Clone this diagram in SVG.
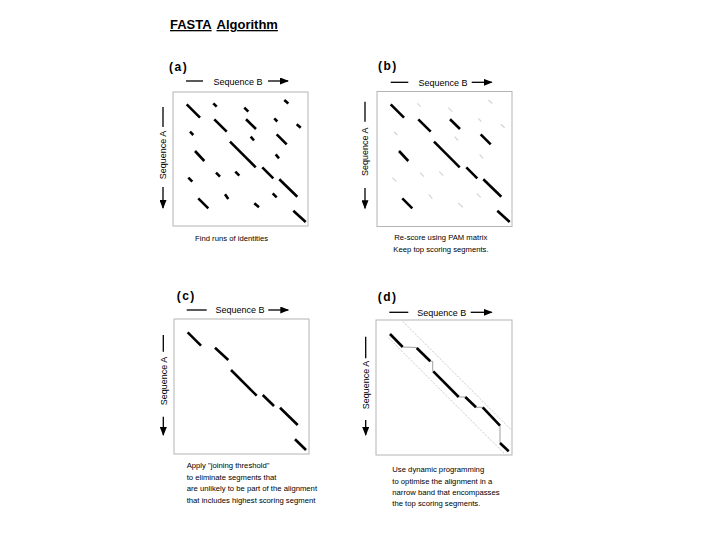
<svg xmlns="http://www.w3.org/2000/svg" width="720" height="540" viewBox="0 0 720 540">
<defs>
<marker id="ah" markerUnits="userSpaceOnUse" markerWidth="9" markerHeight="7" refX="8" refY="3.5" orient="auto">
<path d="M0,0 L9,3.5 L0,7 z" fill="#000"/>
</marker>
<style>
text{font-family:"Liberation Sans",Arial,sans-serif;fill:#000}
.title{font-size:13px;font-weight:bold;text-decoration:underline}
.lab{font-size:12px;font-weight:bold;letter-spacing:1.5px}
.seq{font-size:9px}
.cap{font-size:7.7px}
.box{fill:none;stroke:#b4b4b4;stroke-width:1}
.ax{stroke:#000;stroke-width:1.3;fill:none}
.arr{stroke:#000;stroke-width:1.3;fill:none;marker-end:url(#ah)}
.seg{stroke:#000;stroke-width:2.6;fill:none}
.faint{stroke:#d4d4d4;stroke-width:1.2;fill:none}
.band{stroke:#c8c8c8;stroke-width:1;fill:none;stroke-dasharray:2 1.5}
.path{stroke:#a0a0a0;stroke-width:1;fill:none}
</style>
</defs>
<rect width="720" height="540" fill="#fff"/>
<g id="title">
<text class="title" x="170" y="29">FASTA</text>
<text class="title" x="216.5" y="29">Algorithm</text>
</g>

<g id="panel-a">
<text class="lab" x="169" y="71">(a)</text>
<line class="ax" x1="186" y1="81" x2="203" y2="81"/>
<text class="seq" x="238" y="84.5" text-anchor="middle">Sequence B</text>
<line class="arr" x1="268" y1="81" x2="288" y2="81"/>
<line class="ax" x1="163" y1="107" x2="163" y2="127"/>
<text class="seq" transform="translate(166.2,155) rotate(-90)" text-anchor="middle">Sequence A</text>
<line class="arr" x1="163" y1="187" x2="163" y2="208"/>
<rect class="box" x="173" y="92" width="135" height="134"/>
<g class="seg">
<line x1="186.7" y1="104.3" x2="200" y2="117.7"/>
<line x1="213.3" y1="103.3" x2="216.7" y2="106.7"/>
<line x1="244.3" y1="107.7" x2="248.3" y2="111.7"/>
<line x1="284.3" y1="100" x2="288.3" y2="103.5"/>
<line x1="214.3" y1="119.3" x2="226.7" y2="131.7"/>
<line x1="246" y1="119.3" x2="256" y2="129"/>
<line x1="274.3" y1="118.3" x2="277.3" y2="121.5"/>
<line x1="296.7" y1="124.3" x2="300.7" y2="127.7"/>
<line x1="190" y1="131.7" x2="193.3" y2="135"/>
<line x1="250.7" y1="136.7" x2="254" y2="140.5"/>
<line x1="276.7" y1="134.3" x2="286.7" y2="144.3"/>
<line x1="230" y1="141.7" x2="255.7" y2="167.3"/>
<line x1="195" y1="151" x2="204.3" y2="161"/>
<line x1="275.7" y1="154.3" x2="279" y2="158.3"/>
<line x1="262.3" y1="167.3" x2="273.3" y2="178.3"/>
<line x1="216" y1="172.7" x2="220" y2="176.7"/>
<line x1="235.3" y1="171.7" x2="239.3" y2="175.7"/>
<line x1="188.3" y1="177.7" x2="192.3" y2="181.7"/>
<line x1="279.3" y1="179.3" x2="297.3" y2="196.7"/>
<line x1="225" y1="194.3" x2="228.3" y2="199"/>
<line x1="272.7" y1="193.3" x2="276.7" y2="197.3"/>
<line x1="198.3" y1="198.3" x2="208.3" y2="208.3"/>
<line x1="254.3" y1="203.3" x2="259" y2="207.3"/>
<line x1="293.3" y1="210.7" x2="305.7" y2="222"/>
</g>
<text class="cap" x="195" y="241">Find runs of identities</text>
</g>

<g id="panel-b">
<text class="lab" x="378" y="70">(b)</text>
<line class="ax" x1="390.7" y1="82.3" x2="408.3" y2="82.3"/>
<text class="seq" x="443" y="85.5" text-anchor="middle">Sequence B</text>
<line class="arr" x1="471.7" y1="82.3" x2="491.7" y2="82.3"/>
<line class="ax" x1="365" y1="101.7" x2="365" y2="121.7"/>
<text class="seq" transform="translate(368.2,151.7) rotate(-90)" text-anchor="middle">Sequence A</text>
<line class="arr" x1="365" y1="188" x2="365" y2="208.3"/>
<rect class="box" x="377" y="91.5" width="135" height="135"/>
<g class="faint">
<line x1="417.3" y1="103.3" x2="420.7" y2="106.7"/>
<line x1="448.3" y1="107.7" x2="452.3" y2="111.7"/>
<line x1="488.3" y1="100" x2="492.3" y2="103.5"/>
<line x1="478.3" y1="118.3" x2="481.3" y2="121.5"/>
<line x1="500.7" y1="124.3" x2="504.7" y2="127.7"/>
<line x1="394" y1="131.7" x2="397.3" y2="135"/>
<line x1="454.7" y1="136.7" x2="458" y2="140.5"/>
<line x1="479.7" y1="154.3" x2="483" y2="158.3"/>
<line x1="420" y1="172.7" x2="424" y2="176.7"/>
<line x1="439.3" y1="171.7" x2="443.3" y2="175.7"/>
<line x1="392.3" y1="177.7" x2="396.3" y2="181.7"/>
<line x1="429" y1="194.3" x2="432.3" y2="199"/>
<line x1="476.7" y1="193.3" x2="480.7" y2="197.3"/>
<line x1="458.3" y1="203.3" x2="463" y2="207.3"/>
</g>
<g class="seg">
<line x1="390.7" y1="104.3" x2="404" y2="117.7"/>
<line x1="418.3" y1="119.3" x2="430.7" y2="131.7"/>
<line x1="450" y1="119.3" x2="460" y2="129"/>
<line x1="480.7" y1="134.3" x2="490.7" y2="144.3"/>
<line x1="434" y1="141.7" x2="459.7" y2="167.3"/>
<line x1="399" y1="151" x2="408.3" y2="161"/>
<line x1="466.3" y1="167.3" x2="477.3" y2="178.3"/>
<line x1="483.3" y1="179.3" x2="501.3" y2="196.7"/>
<line x1="402.3" y1="198.3" x2="412.3" y2="208.3"/>
<line x1="497.3" y1="210.7" x2="509.7" y2="222"/>
</g>
<text class="cap" x="394.3" y="240">Re-score using PAM matrix</text>
<text class="cap" x="393.3" y="252">Keep top scoring segments.</text>
</g>

<g id="panel-c">
<text class="lab" x="176.7" y="300">(c)</text>
<line class="ax" x1="186.7" y1="310" x2="206.7" y2="310"/>
<text class="seq" x="240" y="313.3" text-anchor="middle">Sequence B</text>
<line class="arr" x1="268.3" y1="310" x2="288.3" y2="310"/>
<line class="ax" x1="163.3" y1="335" x2="163.3" y2="351.7"/>
<text class="seq" transform="translate(166.5,381) rotate(-90)" text-anchor="middle">Sequence A</text>
<line class="arr" x1="163.3" y1="416.7" x2="163.3" y2="435"/>
<rect class="box" x="174" y="319" width="135" height="135"/>
<g class="seg">
<line x1="187.7" y1="332.3" x2="201" y2="345.7"/>
<line x1="215" y1="347.7" x2="228.3" y2="360"/>
<line x1="231" y1="370" x2="256.7" y2="395.7"/>
<line x1="262.7" y1="395" x2="274" y2="406"/>
<line x1="280" y1="407.7" x2="297.7" y2="425"/>
<line x1="295" y1="439.3" x2="306" y2="450"/>
</g>
<text class="cap" x="186.7" y="468">Apply "joining threshold"</text>
<text class="cap" x="186.7" y="479.5">to eliminate segments that</text>
<text class="cap" x="186.7" y="491">are unlikely to be part of the alignment</text>
<text class="cap" x="186.7" y="502.5">that includes highest scoring segment</text>
</g>

<g id="panel-d">
<text class="lab" x="377.7" y="301">(d)</text>
<line class="ax" x1="389.3" y1="312.3" x2="408.3" y2="312.3"/>
<text class="seq" x="441.7" y="315.5" text-anchor="middle">Sequence B</text>
<line class="arr" x1="470.7" y1="312.3" x2="491.7" y2="312.3"/>
<line class="ax" x1="365.7" y1="336.7" x2="365.7" y2="358.3"/>
<text class="seq" transform="translate(368.9,385) rotate(-90)" text-anchor="middle">Sequence A</text>
<line class="arr" x1="365.7" y1="420" x2="365.7" y2="435"/>
<rect class="box" x="376" y="320" width="136" height="135"/>
<line class="band" x1="402.7" y1="321.3" x2="511.5" y2="430.1"/>
<line class="band" x1="388.7" y1="338" x2="505.7" y2="455"/>
<polyline class="path" points="390,334 402.7,347 416.7,347.5 430.3,361.3 432.7,361.3 432.7,371.3 433.3,371.3 458.7,397 465.3,397 476,407.3 482.7,407.3 500,425.7 500,443 508.7,451.3"/>
<g class="seg">
<line x1="390" y1="334" x2="402.7" y2="347"/>
<line x1="416.7" y1="348" x2="430.3" y2="361.3"/>
<line x1="433.3" y1="371.3" x2="458.7" y2="397"/>
<line x1="465.3" y1="397" x2="476" y2="407.3"/>
<line x1="482.7" y1="407.3" x2="500" y2="425.7"/>
<line x1="500" y1="443" x2="508.7" y2="451.3"/>
</g>
<text class="cap" x="392.3" y="472.3">Use dynamic programming</text>
<text class="cap" x="392.3" y="483.5">to optimise the alignment in a</text>
<text class="cap" x="392.3" y="494.7">narrow band that encompasses</text>
<text class="cap" x="392.3" y="506">the top scoring segments.</text>
</g>
</svg>
